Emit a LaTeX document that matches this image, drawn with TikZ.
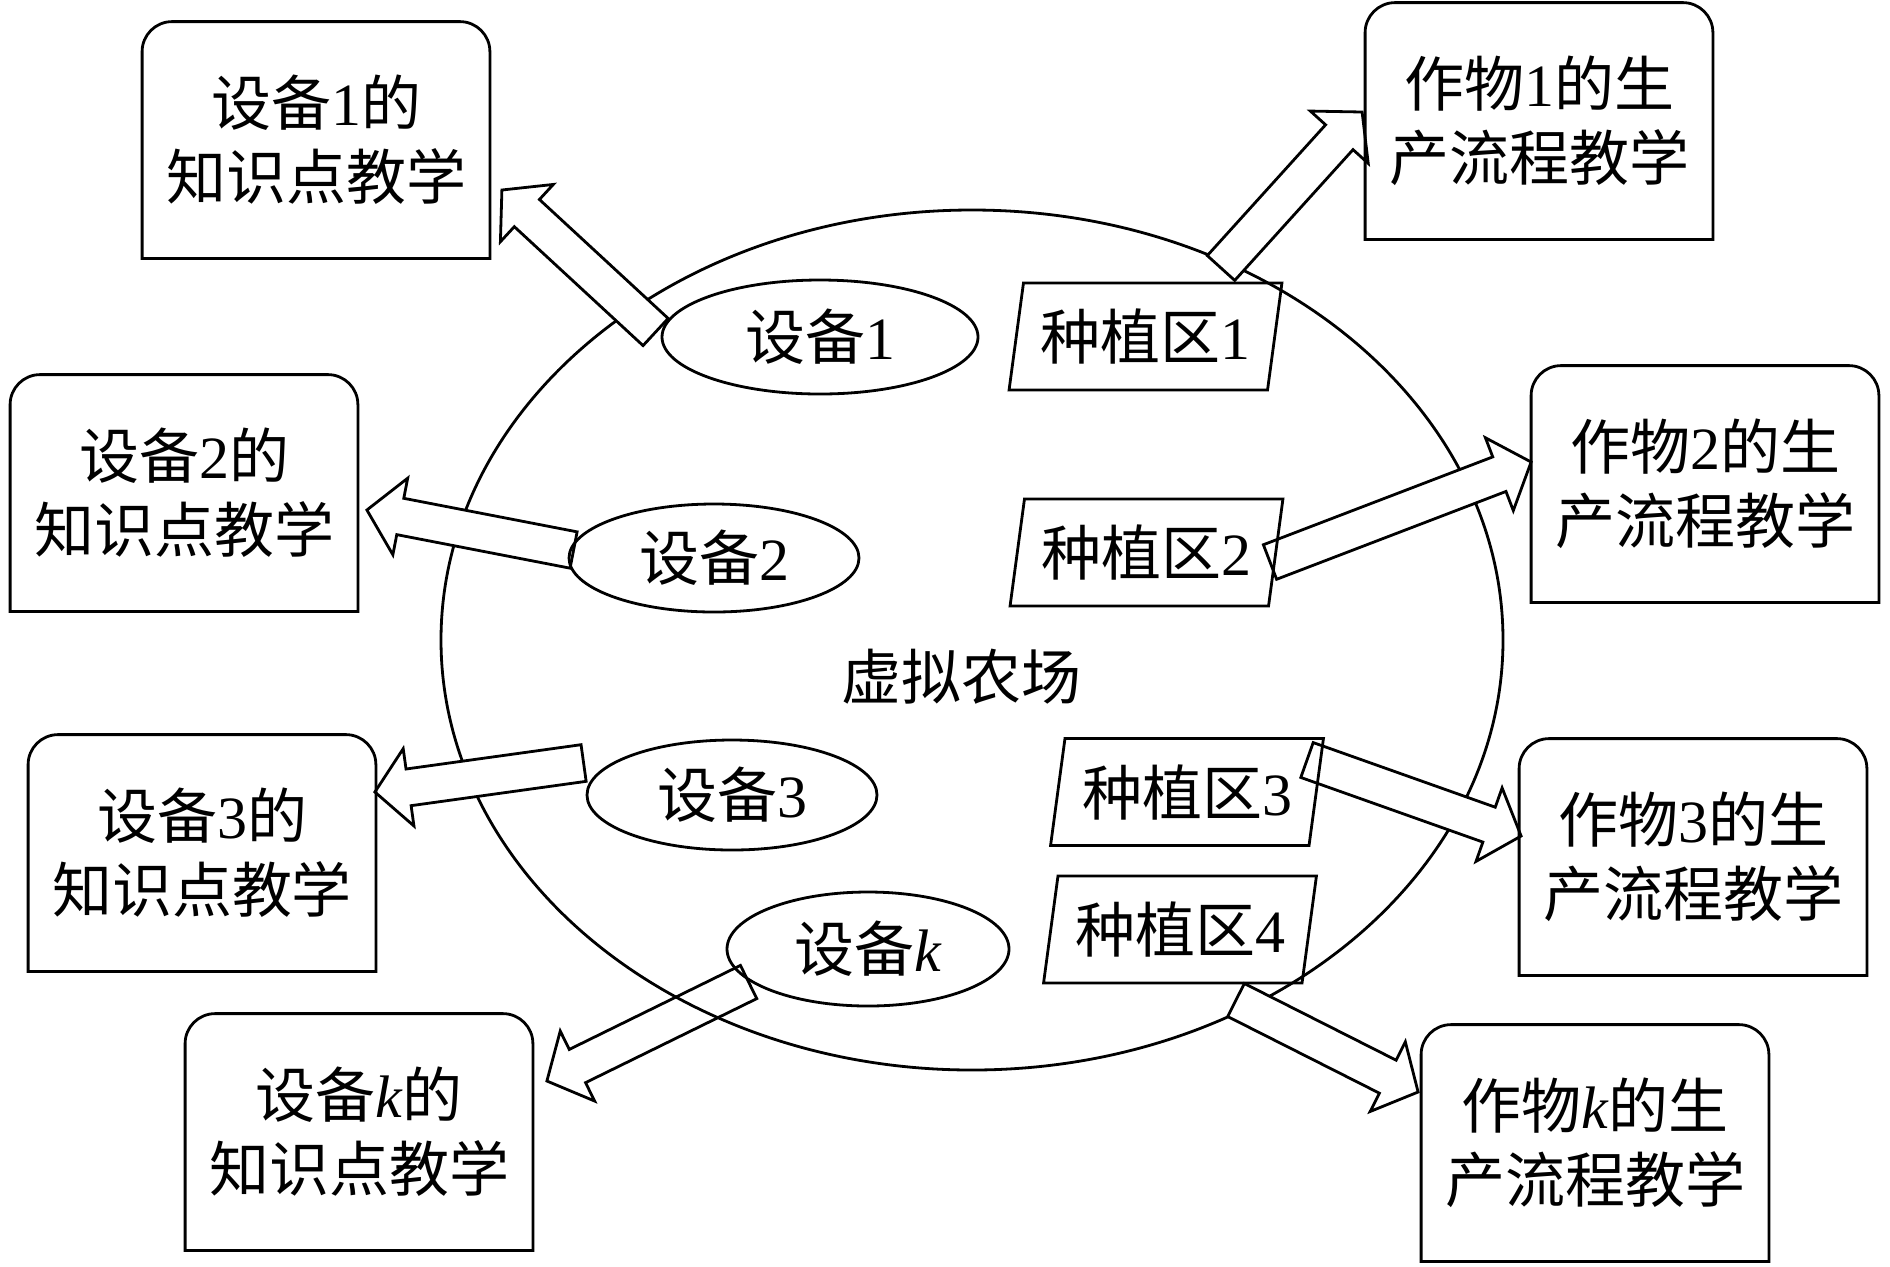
\documentclass[tikz,border=0pt]{standalone}
\usepackage{fontspec}
\setmainfont{Liberation Serif}
\newfontfamily\cjk{Noto Sans CJK SC}
\usetikzlibrary{shapes.geometric, calc, backgrounds}
\tikzset{zh/.style={font=\fontsize{30pt}{37pt}\selectfont\cjk}}
\tikzset{box/.style={zh, minimum width=172.5pt, minimum height=117pt, align=center, inner sep=0pt}}
\tikzset{dev/.style={zh, ellipse, draw, inner sep=0pt}}
\tikzset{zone/.style={zh, trapezium, draw, trapezium left angle=77.4, trapezium right angle=102.6, trapezium stretches=true, minimum width=136.5pt, minimum height=53.5pt, inner sep=0pt}}
\tikzset{barrow/.style={draw, fill=white, line width=1.4pt, line join=miter}}
\newcommand{\tn}[1]{{\rmfamily #1}}
\newcommand{\bigarrow}[2]{%
  \coordinate (hb) at ($(#2)!17pt!(#1)$);
  \draw[barrow] ($(#1)!9.25pt!90:(#2)$) -- ($(hb)!9.25pt!90:(#2)$) -- ($(hb)!19.5pt!90:(#2)$) -- (#2)
    -- ($(hb)!19.5pt!-90:(#2)$) -- ($(hb)!9.25pt!-90:(#2)$) -- ($(#1)!9.25pt!-90:(#2)$) -- cycle;}

\begin{document}
\begin{tikzpicture}[x=0.5pt, y=0.5pt, line width=1.4pt]
        \useasboundingbox (0,0) rectangle (1890,-1266);

        % teaching boxes
        \node[box] (b1) at (316,-140) {设备\tn{1}的\\知识点教学};
        \node[box] (b2) at (184,-493) {设备\tn{2}的\\知识点教学};
        \node[box] (b3) at (202,-853) {设备\tn{3}的\\知识点教学};
        \node[box] (bk) at (359,-1132) {设备\tn{\itshape k}的\\知识点教学};

        \node[box] (c1) at (1539,-121) {作物\tn{1}的生\\产流程教学};
        \node[box] (c2) at (1705,-484) {作物\tn{2}的生\\产流程教学};
        \node[box] (c3) at (1693,-857) {作物\tn{3}的生\\产流程教学};
        \node[box] (ck) at (1595,-1143) {作物\tn{\itshape k}的生\\产流程教学};

        \foreach \bx in {b1,b2,b3,bk,c1,c2,c3,ck}
            \draw (\bx.south west) -- ([yshift=-15pt]\bx.north west) arc[start angle=180, end angle=90, radius=15pt]
                -- ([xshift=-15pt]\bx.north east) arc[start angle=90, end angle=0, radius=15pt] -- (\bx.south east) -- cycle;

        % devices
        \node[dev, minimum width=158pt, minimum height=57pt] (e1) at (820,-337) {设备\tn{1}};
        \node[dev, minimum width=145pt, minimum height=54pt] (e2) at (714,-558) {设备\tn{2}};
        \node[dev, minimum width=145pt, minimum height=55pt] (e3) at (732,-795) {设备\tn{3}};
        \node[dev, minimum width=141pt, minimum height=57pt] (ek) at (868,-949) {设备\tn{\itshape k}};

        % planting zones
        \node[zone] (p1) at (1145.5,-336.5) {种植区\tn{1}};
        \node[zone] (p2) at (1146.5,-552.5) {种植区\tn{2}};
        \node[zone] (p3) at (1187,-792) {种植区\tn{3}};
        \node[zone] (p4) at (1180,-929.5) {种植区\tn{4}};

        \node[zh] (farmtxt) at (961,-677) {虚拟农场};

        \coordinate (s1) at ([shift={(-5,5)}]e1.west);
        \coordinate (t1) at ([shift={(12,-50)}]b1.east);
        \coordinate (s2) at ([shift={(6,8)}]e2.west);
        \coordinate (t2) at ([shift={(9,-17)}]b2.east);
        \coordinate (s3) at ([shift={(-2,32)}]e3.west);
        \coordinate (t3) at ([shift={(-1,61)}]b3.east);
        \coordinate (s4) at ([shift={(23,-33)}]ek.west);
        \coordinate (t4) at ([shift={(14,51)}]bk.east);
        \coordinate (s5) at ([shift={(75.5,68.5)}]p1.center);
        \coordinate (t5) at ([shift={(-3,9)}]c1.west);
        \coordinate (s6) at ([shift={(123.5,-9.5)}]p2.center);
        \coordinate (t6) at ([shift={(0,22)}]c2.west);
        \coordinate (s7) at ([shift={(120,32)}]p3.center);
        \coordinate (t7) at ([shift={(2,21)}]c3.west);
        \coordinate (s8) at ([shift={(56,-70.5)}]p4.center);
        \coordinate (t8) at ([shift={(-3,51)}]ck.west);

        \begin{pgfonlayer}{background}
            \bigarrow{s4}{t4}
            \node[ellipse, draw, line width=1.4pt, minimum width=531pt, minimum height=430pt] (farm) at (972,-640) {};
            \foreach \s/\t in {s1/t1,s2/t2,s3/t3,s5/t5,s6/t6,s7/t7,s8/t8}{
                \bigarrow{\s}{\t}
            }
        \end{pgfonlayer}
\end{tikzpicture}
\end{document}
